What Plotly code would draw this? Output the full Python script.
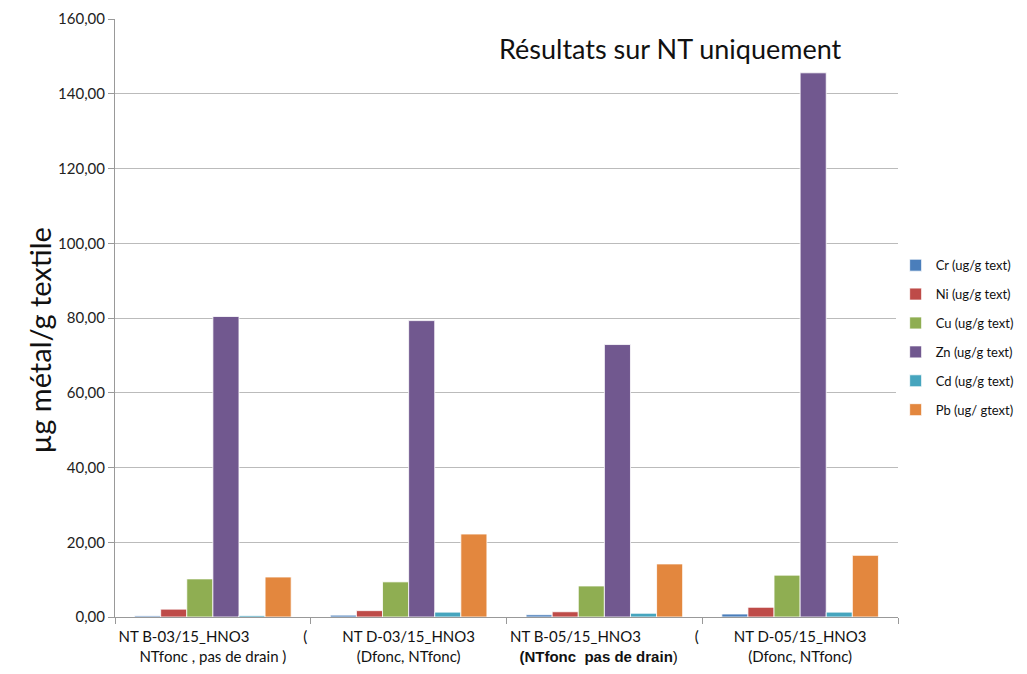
import plotly.graph_objects as go

NB = "\u00a0"
categories = ["B03", "D03", "B05", "D05"]
tick_labels = [
    "NT B-03/15_HNO3" + NB * 14 + "(<br>NTfonc , pas de drain )",
    "NT D-03/15_HNO3<br>(Dfonc, NTfonc)",
    "NT B-05/15_HNO3" + NB * 14 + "(<br><span style='font-family:Liberation Sans;font-size:15px'><b>(NTfonc" + NB + NB + "pas de drain</b>)</span>" + NB * 3,
    "NT D-05/15_HNO3<br>(Dfonc, NTfonc)",
]
series_names = ["Cr (ug/g text)", "Ni (ug/g text)", "Cu (ug/g text)",
                "Zn (ug/g text)", "Cd (ug/g text)", "Pb (ug/ gtext)"]
y_title = "µg métal/g textile"
chart_title = "Résultats sur NT uniquement"
cr = [0.3, 0.5, 0.6, 0.8]
ni = [2.1, 1.7, 1.4, 2.6]
cu = [10.2, 9.4, 8.3, 11.2]
zn = [80.4, 79.3, 72.9, 145.6]
cd = [0.4, 1.3, 1.0, 1.3]
pb = [10.7, 22.2, 14.2, 16.5]
colors = ["#4A7EBB", "#BE4B48", "#8FAE52", "#71588F", "#46A5BE", "#E3873E"]

fig = go.Figure()
for i, (name, vals) in enumerate(zip(series_names, [cr, ni, cu, zn, cd, pb])):
    fig.add_trace(go.Bar(
        x=categories, y=vals, name=name, marker_color=colors[i],
        marker_line=dict(color="white", width=0.8), legendgroup=f"g{i}",
    ))

fig.update_layout(
    width=1019, height=666,
    barmode="group", bargap=0.2, bargroupgap=0,
    plot_bgcolor="white", paper_bgcolor="white",
    margin=dict(l=107, r=129, t=11, b=57, autoexpand=False),
    font=dict(family="Lato, Open Sans, sans-serif", color="#222"),
    separators=", ",
    legend=dict(x=0.997, y=0.467, xanchor="left", yanchor="middle",
                font=dict(size=13, color="#111"), tracegroupgap=9,
                itemwidth=30),
    showlegend=True,
)
fig.update_xaxes(
    tickmode="array", tickvals=categories, ticktext=tick_labels,
    tickfont=dict(size=15, color="#111"), tickangle=0, ticklabelstandoff=6,
    showline=True, linecolor="#999", linewidth=1,
    ticks="outside", tickson="boundaries", ticklen=6, tickcolor="#999",
    showgrid=False, automargin=False,
)
fig.update_yaxes(
    range=[0, 160], dtick=20, tickformat=".2f",
    tickfont=dict(size=15, color="#222"),
    showgrid=True, gridcolor="#BBBBBB", gridwidth=1.4,
    showline=True, linecolor="#999", linewidth=1,
    ticks="outside", ticklen=6, tickcolor="#999",
    zeroline=False, automargin=False,
)
fig.add_annotation(
    text=y_title, xref="paper", yref="paper",
    x=-0.096, y=0.462, xanchor="center", yanchor="middle", textangle=-90,
    showarrow=False, font=dict(size=29, color="#111"),
)
fig.add_annotation(
    text=chart_title, xref="paper", yref="paper",
    x=0.488, y=0.95, xanchor="left", yanchor="middle", showarrow=False,
    font=dict(size=27, color="#111"),
)
fig.write_html("out.html")
